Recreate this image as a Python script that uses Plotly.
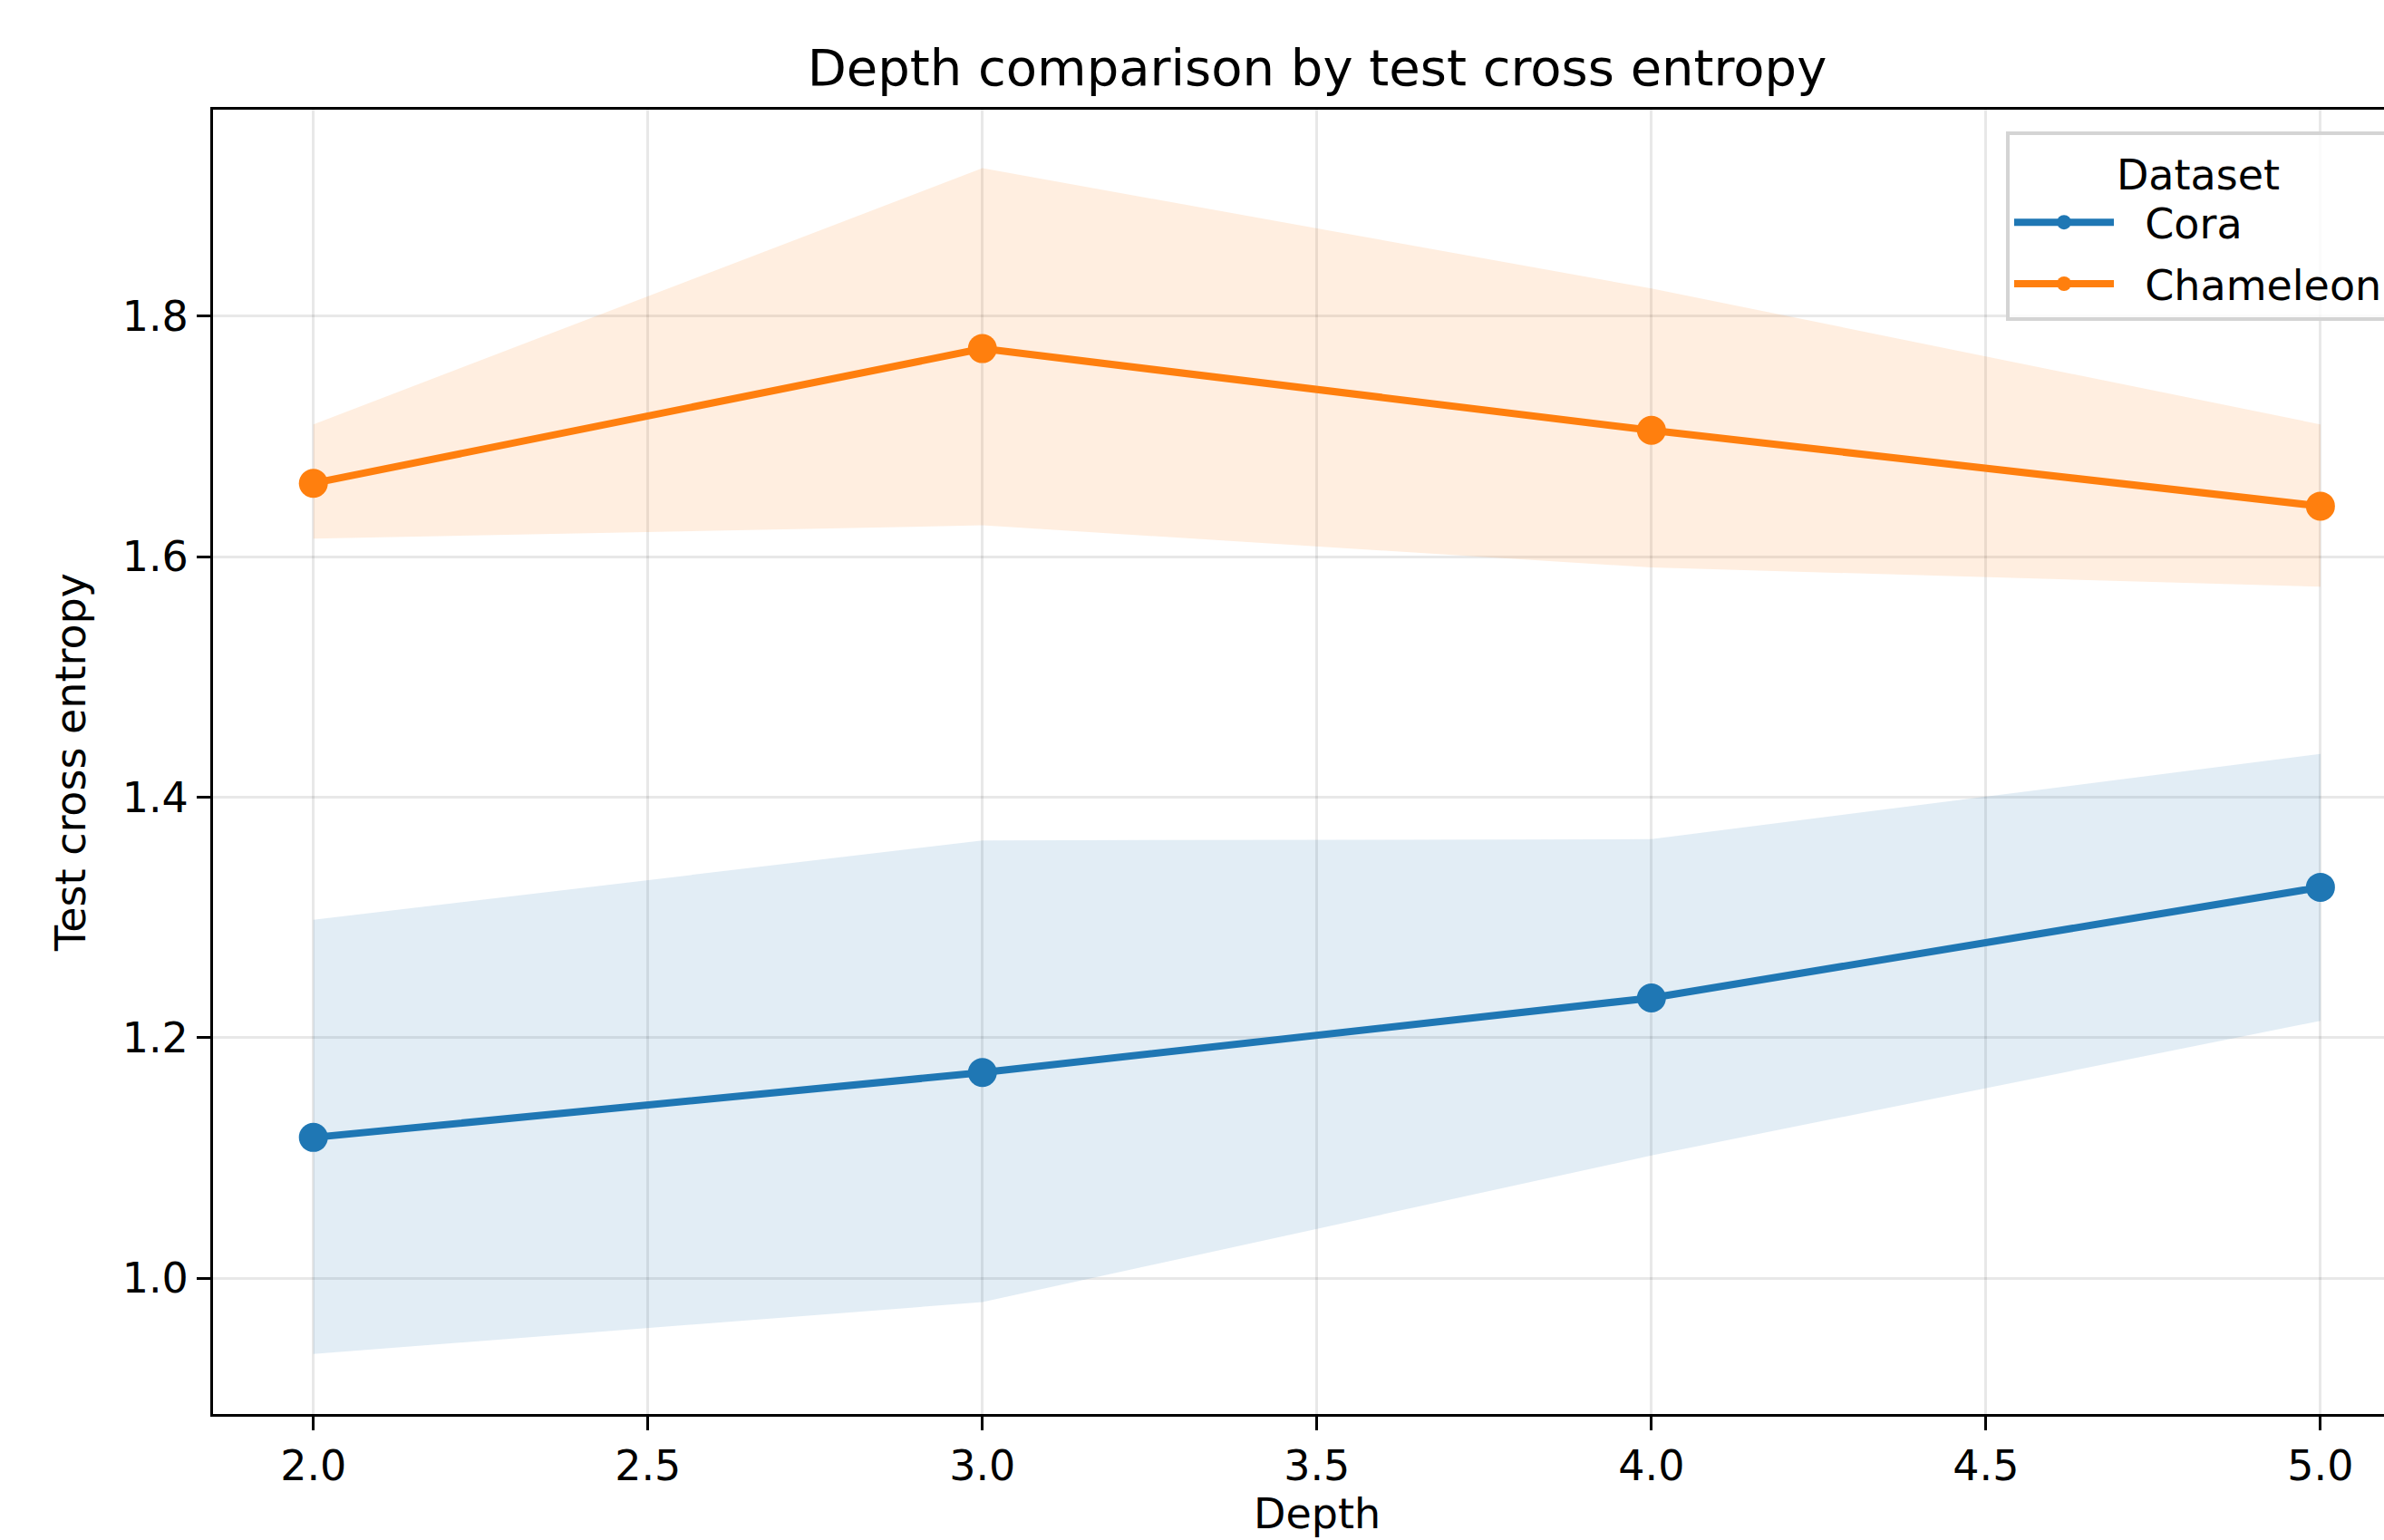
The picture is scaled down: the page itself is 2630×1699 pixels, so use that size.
import plotly.graph_objects as go

depth = [2.0, 3.0, 4.0, 5.0]
cora_mean = [1.117, 1.171, 1.233, 1.325]
cora_upper = [1.298, 1.364, 1.365, 1.436]
cora_lower = [0.937, 0.980, 1.102, 1.214]
cham_mean = [1.661, 1.773, 1.705, 1.642]
cham_upper = [1.710, 1.923, 1.823, 1.710]
cham_lower = [1.615, 1.626, 1.591, 1.575]

series_names = ["Cora", "Chameleon"]
x_ticks = [2.0, 2.5, 3.0, 3.5, 4.0, 4.5, 5.0]
y_ticks = [1.0, 1.2, 1.4, 1.6, 1.8]

FONT = "DejaVu Sans"
BLUE = "#1f77b4"
ORANGE = "#ff7f0e"
FS = 46
NB = "\u00a0\u00a0"

fig = go.Figure()

fig.add_trace(go.Scatter(
    x=depth + depth[::-1], y=cora_upper + cora_lower[::-1],
    fill="toself", fillcolor="rgba(31,119,180,0.13)", line=dict(width=0),
    mode="lines", showlegend=False, hoverinfo="skip"))
fig.add_trace(go.Scatter(
    x=depth + depth[::-1], y=cham_upper + cham_lower[::-1],
    fill="toself", fillcolor="rgba(255,127,14,0.13)", line=dict(width=0),
    mode="lines", showlegend=False, hoverinfo="skip"))

fig.add_trace(go.Scatter(
    x=depth, y=cora_mean, name=NB + series_names[0], legendgroup="a",
    mode="lines+markers",
    line=dict(color=BLUE, width=8), marker=dict(color=BLUE, size=32)))
fig.add_trace(go.Scatter(
    x=depth, y=cham_mean, name=NB + series_names[1], legendgroup="b",
    mode="lines+markers",
    line=dict(color=ORANGE, width=8), marker=dict(color=ORANGE, size=32)))

L, T, B = 235, 121, 139
PW = 2630 - L
PH = 1560 - T
fig.update_layout(
    width=2630, height=1699,
    margin=dict(l=L, r=0, t=T, b=B, autoexpand=False),
    paper_bgcolor="white", plot_bgcolor="white",
    font=dict(family=FONT, size=FS, color="black"),
    title=dict(text="Depth comparison by test cross entropy",
               x=(235 + 2671) / 2 / 2630, xanchor="center",
               y=1 - 74 / 1699, yanchor="middle",
               font=dict(family=FONT, size=56, color="black")),
    legend=dict(
        title=dict(text="Dataset", side="top center", font=dict(size=FS)),
        x=(2213 - L) / PW, y=(1560 - 145) / PH,
        xanchor="left", yanchor="top",
        bgcolor="rgba(255,255,255,0.8)", bordercolor="#d4d4d4", borderwidth=4,
        font=dict(size=FS), itemwidth=110, itemsizing="trace",
        tracegroupgap=5),
    showlegend=True,
    annotations=[dict(text="Depth", xref="paper", yref="paper",
                      x=((235 + 2671) / 2 - L) / PW, y=(1560 - 1698) / PH,
                      xanchor="center", yanchor="bottom", showarrow=False,
                      borderpad=0,
                      font=dict(size=FS, family=FONT, color="black"))],
)

fig.update_xaxes(
    range=[1.85, 5.095], tickvals=x_ticks, tickformat=".1f",
    showline=True, linecolor="black", linewidth=3, mirror=True,
    ticks="outside", ticklen=15, tickwidth=3, tickcolor="black",
    showgrid=True, gridcolor="rgba(0,0,0,0.09)", gridwidth=3,
    zeroline=False,
)
fig.update_yaxes(
    range=[0.887, 1.9717], tickvals=y_ticks, tickformat=".1f",
    showline=True, linecolor="black", linewidth=3, mirror=False,
    ticks="outside", ticklen=15, tickwidth=3, tickcolor="black",
    showgrid=True, gridcolor="rgba(0,0,0,0.09)", gridwidth=3,
    zeroline=False,
    title=dict(text="Test cross entropy", standoff=26, font=dict(size=FS)),
)

fig.write_html("out.html")
